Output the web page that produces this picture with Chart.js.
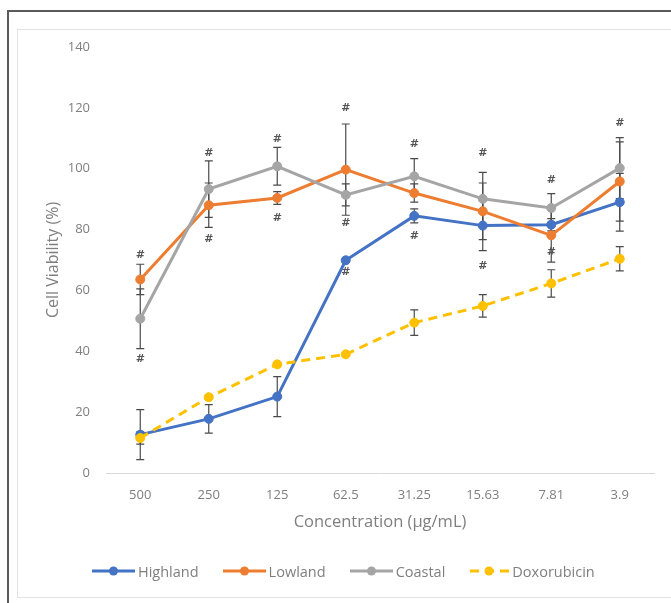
<!DOCTYPE html>
<html><head><meta charset="utf-8">
<script src="https://cdn.jsdelivr.net/npm/chart.js@4/dist/chart.umd.min.js"></script>
<style>
html,body{margin:0;padding:0;background:#fff;width:671px;height:603px;overflow:hidden;}
#frame{position:absolute;left:7px;top:10px;width:700px;height:700px;border-left:2px solid #5a5a5a;border-top:2px solid #5a5a5a;}
#inner{position:absolute;left:17px;top:29px;width:653px;height:567px;border:1px solid #e3e3e3;}
#wrap{position:absolute;left:0;top:0;width:671px;height:603px;}
#legend{position:absolute;left:92px;top:561px;height:20px;display:flex;align-items:center;gap:24px;font:14.5px 'Open Sans',sans-serif;color:#7f7f7f;}
.item{display:flex;align-items:center;gap:3px;}
.item svg{display:block;}
</style></head>
<body>
<div id="frame"></div>
<div id="inner"></div>
<div id="wrap"><canvas id="c" width="671" height="603"></canvas></div>
<div id="legend"></div>
<script>
const categories = ['500','250','125','62.5','31.25','15.63','7.81','3.9'];
const seriesNames = ['Highland','Lowland','Coastal','Doxorubicin'];
const highland    = [12.6, 17.8, 25.1, 69.9, 84.5, 81.3, 81.6, 89.0];
const lowland     = [63.6, 88.0, 90.4, 99.7, 92.0, 86.0, 78.1, 95.8];
const coastal     = [50.7, 93.3, 100.8, 91.4, 97.5, 90.1, 87.1, 100.2];
const doxorubicin = [11.5, 24.9, 35.7, 39.0, 49.4, 54.9, 62.3, 70.4];
const highlandErr    = [8.2, 4.7, 6.6, 0.5, 2.3, 8.2, 2.0, 9.5];
const lowlandErr     = [5.0, 7.3, 2.1, 15.0, 3.0, 9.3, 8.8, 13.0];
const coastalErr     = [9.8, 9.3, 6.2, 3.6, 5.8, 8.7, 4.7, 10.0];
const doxorubicinErr = [2.0, 0.5, 0.5, 0.5, 4.2, 3.7, 4.5, 4.0];
// significance marks "#": [category index, value]
const hashMarks = [[0,71.5],[0,37.4],[1,105.2],[1,76.7],[2,109.8],[2,83.6],[3,120.0],[3,82.0],[3,65.9],[4,108.2],[4,77.7],[5,105.2],[5,67.9],[6,96.4],[6,72.5],[7,115.1]];
const yMin = 0, yMax = 140, yStep = 20;

const colors = ['#4472C4','#ED7D31','#A5A5A5','#FFC000'];
const values = [highland, lowland, coastal, doxorubicin];
const errs = [highlandErr, lowlandErr, coastalErr, doxorubicinErr];

const datasets = values.map((d,i)=>({
  label: seriesNames[i], data: d,
  borderColor: colors[i], backgroundColor: colors[i],
  pointBackgroundColor: colors[i], pointBorderColor: colors[i],
  borderWidth: 3, pointRadius: 4.5, pointBorderWidth: 1, tension: 0,
  borderDash: i===3 ? [9,6] : [],
  order: 4 - i
}));

const overlay = {
  id: 'overlay',
  beforeDatasetsDraw(chart){
    const ctx = chart.ctx, ys = chart.scales.y, xs = chart.scales.x;
    ctx.save();
    ctx.strokeStyle = '#4a4a4a'; ctx.lineWidth = 1.2;
    errs.forEach((arr, di)=>{
      arr.forEach((e, i)=>{
        const px = xs.getPixelForValue(i);
        const v = values[di][i];
        const t = ys.getPixelForValue(v + e), b = ys.getPixelForValue(v - e);
        ctx.beginPath();
        ctx.moveTo(px, t); ctx.lineTo(px, b);
        ctx.moveTo(px-4, t); ctx.lineTo(px+4, t);
        ctx.moveTo(px-4, b); ctx.lineTo(px+4, b);
        ctx.stroke();
      });
    });
    ctx.restore();
  },
  afterDatasetsDraw(chart){
    const ctx = chart.ctx, ys = chart.scales.y, xs = chart.scales.x;
    ctx.save();
    ctx.fillStyle = '#555';
    ctx.font = 'bold 11px "DejaVu Sans", sans-serif';
    ctx.textAlign = 'center'; ctx.textBaseline = 'middle';
    hashMarks.forEach(([i, v])=>{
      ctx.fillText('#', xs.getPixelForValue(i), ys.getPixelForValue(v));
    });
    ctx.restore();
  }
};

new Chart(document.getElementById('c'), {
  type: 'line',
  data: { labels: categories, datasets },
  plugins: [overlay],
  options: {
    responsive: false, animation: false,
    layout: { padding: { left: 40, top: 47, right: 17, bottom: 71 } },
    plugins: { legend: { display: false }, tooltip: { enabled: false } },
    scales: {
      x: {
        offset: true,
        grid: { display: false, drawTicks: false },
        border: { display: true, color: '#d9d9d9', width: 1 },
        ticks: { color: '#7f7f7f', font: { family: 'Open Sans', size: 13 }, padding: 14, maxRotation: 0 },
        title: { display: true, text: 'Concentration (μg/mL)', color: '#7f7f7f', font: { family: 'Open Sans', size: 16.5 }, padding: { top: 0, bottom: 0 } },
        afterFit(s){ s.height = 59; }
      },
      y: {
        min: yMin, max: yMax,
        grid: { display: false, drawTicks: false },
        border: { display: false },
        ticks: { stepSize: yStep, color: '#7f7f7f', font: { family: 'Open Sans', size: 13 }, padding: 16 },
        title: { display: true, text: 'Cell Viability (%)', color: '#7f7f7f', font: { family: 'Open Sans', size: 16 }, padding: { top: 4, bottom: 0 } },
        afterFit(s){ s.width = 66; }
      }
    }
  }
});

// legend
const lg = document.getElementById('legend');
seriesNames.forEach((n,i)=>{
  const it = document.createElement('div'); it.className = 'item';
  const dash = i===3 ? 'stroke-dasharray="9,6" stroke-dashoffset="-1"' : '';
  const w = i===3 ? 40 : 43;
  it.innerHTML = `<svg width="${w}" height="12"><line x1="0" y1="6" x2="${w}" y2="6" stroke="${colors[i]}" stroke-width="3" ${dash}/><circle cx="${w/2}" cy="6" r="4.5" fill="${colors[i]}"/></svg><span>${n}</span>`;
  lg.appendChild(it);
});
</script>
</body></html>
